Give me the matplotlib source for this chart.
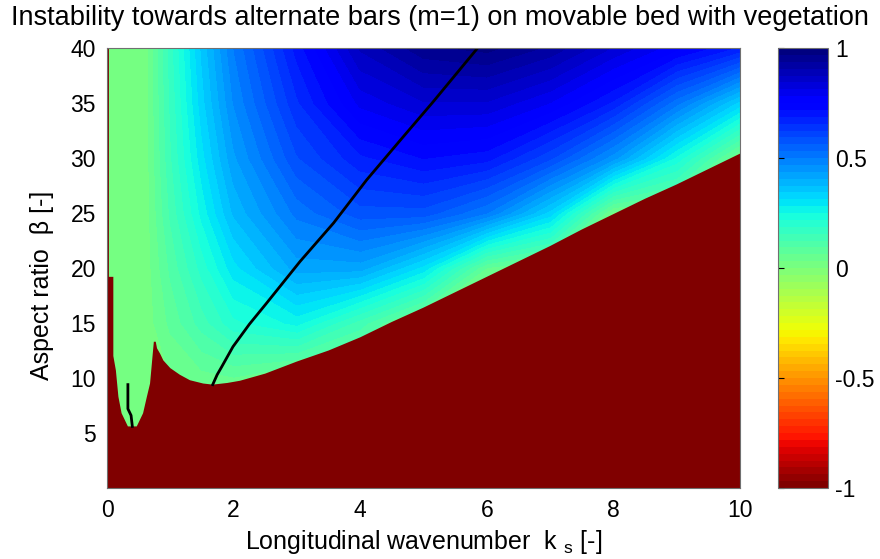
import numpy as np
import matplotlib.pyplot as plt
from matplotlib.cm import ScalarMappable
from matplotlib.colors import Normalize

plt.rcParams['font.family'] = ['Liberation Sans', 'DejaVu Sans']
plt.rcParams['mathtext.fontset'] = 'custom'
plt.rcParams['mathtext.rm'] = 'Liberation Sans'

k_grid = [0, 0.6, 1, 1.5, 2, 3, 4, 5, 6, 7, 8, 9, 10]
beta_grid = [0, 5, 10, 15, 20, 25, 30, 35, 40]
rate = [
    [0.01, 0.01, 0.01, 0.01, 0.01, 0.01, 0.01, 0.01, 0.01, 0.01, 0.01, 0.01, 0.01],
    [0.01, 0.01, 0.01, 0.01, 0.01, 0.01, 0.01, 0.01, 0.01, 0.01, 0.01, 0.01, 0.01],
    [0.01, 0.01, 0.03, 0.05, 0.06, 0.01, 0.01, 0.01, 0.01, 0.01, 0.01, 0.01, 0.01],
    [0.01, 0.01, 0.07, 0.14, 0.21, 0.26, 0.14, 0.01, 0.01, 0.01, 0.01, 0.01, 0.01],
    [0.01, 0.01, 0.10, 0.20, 0.30, 0.42, 0.42, 0.30, 0.06, 0.01, 0.01, 0.01, 0.01],
    [0.01, 0.01, 0.13, 0.26, 0.38, 0.51, 0.58, 0.58, 0.50, 0.33, 0.02, 0.01, 0.01],
    [0.01, 0.01, 0.15, 0.30, 0.43, 0.59, 0.68, 0.72, 0.70, 0.60, 0.45, 0.24, 0.02],
    [0.01, 0.01, 0.16, 0.33, 0.47, 0.65, 0.79, 0.84, 0.84, 0.78, 0.68, 0.51, 0.33],
    [0.01, 0.01, 0.17, 0.35, 0.50, 0.70, 0.88, 0.96, 0.98, 0.93, 0.84, 0.76, 0.68],
]

# upper edge of the stable (dark red) region
stable_k = [0.0, 0.03, 0.03, 0.1, 0.1, 0.14, 0.18, 0.23, 0.28, 0.33, 0.47, 0.52, 0.57,
            0.63, 0.68, 0.71, 0.74, 0.77, 0.79, 0.84, 0.89, 1.0, 1.15, 1.31, 1.52, 1.67,
            1.9, 2.1, 2.5, 3.0, 3.5, 4.0, 4.5, 5.0, 5.5, 6.0, 6.5, 7.0, 7.5, 8.0, 8.5,
            9.0, 9.5, 10.0]
stable_beta = [40, 40, 19.2, 19.2, 12.0, 10.7, 8.3, 6.8, 6.2, 5.6, 5.6, 6.2, 6.8,
               8.3, 9.5, 11.4, 13.3, 13.3, 12.7, 12.2, 11.6, 10.9, 10.3, 9.8, 9.5, 9.4,
               9.55, 9.75, 10.4, 11.5, 12.5, 13.7, 15.1, 16.4, 17.8, 19.2, 20.6, 22.0,
               23.5, 24.9, 26.3, 27.6, 29.0, 30.4]

# black curves (maximum growth)
max_k = [1.67, 1.74, 1.81, 1.99, 2.25, 2.52, 3.05, 3.58, 4.1, 4.63, 5.15, 5.84]
max_beta = [9.4, 10.3, 11.0, 12.85, 14.9, 16.8, 20.6, 24.1, 28.0, 31.6, 35.1, 39.9]
small_k = [0.33, 0.33, 0.38, 0.40]
small_beta = [9.4, 7.2, 6.6, 5.6]

fig = plt.figure(figsize=(8.8, 5.59), dpi=100)
ax = fig.add_axes([0.1216, 0.127, 0.7193, 0.787])
cax = fig.add_axes([0.884, 0.127, 0.057, 0.787])

cmap = plt.get_cmap('jet_r', 64)
levels = np.linspace(-1, 1, 65)
ax.contourf(k_grid, beta_grid, rate, levels=levels, cmap=cmap, vmin=-1, vmax=1,
            antialiased=False)
ax.fill(stable_k + [10, 0], stable_beta + [0, 0], color=cmap(0), lw=0)
ax.plot(max_k, max_beta, color='black', lw=2)
ax.plot(small_k, small_beta, color='black', lw=2)

ax.set_xlim(0, 10)
ax.set_ylim(0, 40)
ax.set_xticks([0, 2, 4, 6, 8, 10])
ax.set_yticks([5, 10, 15, 20, 25, 30, 35, 40])
ax.tick_params(length=0, labelsize=16.5, pad=8)
for s in ax.spines.values():
    s.set_color('#707070')
    s.set_linewidth(0.8)
ax.set_xlabel(r'Longitudinal wavenumber  k $_{\mathrm{s}}$ [-]', fontsize=18, labelpad=4)
ax.set_ylabel('Aspect ratio  β [-]', fontsize=18)
ax.yaxis.set_label_coords(-0.083, 0.46)

cb = fig.colorbar(ScalarMappable(norm=Normalize(-1, 1), cmap=cmap), cax=cax)
cb.set_ticks([-1, -0.5, 0, 0.5, 1])
cb.set_ticklabels(['-1', '-0.5', '0', '0.5', '1'])
cb.ax.tick_params(direction='in', length=4, labelsize=16.5, left=True, right=False, pad=5)
cb.outline.set_edgecolor('#707070')
cb.outline.set_linewidth(0.8)

fig.text(0.5, 0.968, 'Instability towards alternate bars (m=1) on movable bed with vegetation',
         ha='center', va='center', fontsize=19.5)

fig.savefig('out.png', dpi=100)
